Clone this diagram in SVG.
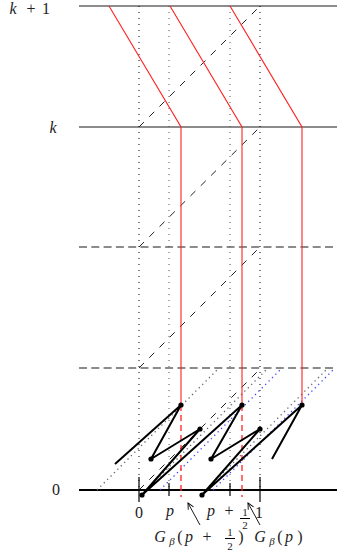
<svg xmlns="http://www.w3.org/2000/svg" width="337" height="559" viewBox="0 0 337 559">
<defs>
<style>
.lvl{stroke:#666;stroke-width:1.5;fill:none}
.lvld{stroke:#666;stroke-width:1.6;stroke-dasharray:8 4.3;fill:none}
.vdot{stroke:#000;stroke-width:1;stroke-dasharray:1 5;fill:none}
.vdotg{stroke:#555;stroke-width:1;stroke-dasharray:1 5;fill:none}
.diag{stroke:#222;stroke-width:1;stroke-dasharray:7 7.5;fill:none}
.gdot{stroke:#666;stroke-width:1.3;stroke-dasharray:1.3 3.5;fill:none}
.bdot{stroke:#44f;stroke-width:1.3;stroke-dasharray:1.3 3.5;fill:none}
.red{stroke:#f22;stroke-width:1.1;fill:none}
.redd{stroke:#f22;stroke-width:1.3;stroke-dasharray:6 4;fill:none}
.zz{stroke:#000;stroke-width:2;fill:none;stroke-linejoin:round}
.tick{stroke:#000;stroke-width:1.2}
.t{font-family:"Liberation Serif","DejaVu Serif",serif;font-size:16px;fill:#222;text-anchor:middle}
.i{font-style:italic}
.s{font-size:11px}
.fb{stroke:#000;stroke-width:1}
</style>
<marker id="ah" viewBox="0 0 8 8" refX="7" refY="4" markerWidth="8" markerHeight="8" orient="auto" markerUnits="userSpaceOnUse">
<path d="M1,1 L7,4 L1,7" fill="none" stroke="#000" stroke-width="0.9"/>
</marker>
</defs>
<g id="levels">
<line class="lvl" x1="79" y1="6" x2="337" y2="6"/>
<line class="lvl" x1="79" y1="127" x2="337" y2="127"/>
<line class="lvld" x1="79" y1="247" x2="337" y2="247"/>
<line class="lvld" x1="79" y1="368" x2="337" y2="368"/>
<line x1="79" y1="490" x2="337" y2="490" stroke="#000" stroke-width="2"/>
</g>
<g id="verticals">
<line class="vdot" x1="139" y1="6" x2="139" y2="490"/>
<line class="vdotg" x1="169" y1="6" x2="169" y2="490"/>
<line class="vdotg" x1="230" y1="6" x2="230" y2="490"/>
<line class="vdot" x1="260" y1="6" x2="260" y2="490"/>
</g>
<g id="diagonals">
<line class="diag" x1="139" y1="127" x2="260" y2="6"/>
<line class="diag" x1="139" y1="247" x2="260" y2="127"/>
<line class="diag" x1="139" y1="368" x2="260" y2="247"/>
<line class="diag" x1="139" y1="490" x2="260" y2="369"/>
<line class="gdot" x1="97" y1="490" x2="219" y2="368"/>
<line class="gdot" x1="146" y1="490" x2="268" y2="368"/>
<line class="bdot" x1="160" y1="490" x2="282" y2="368"/>
<line class="gdot" x1="206" y1="490" x2="328" y2="368"/>
<line class="bdot" x1="213" y1="490" x2="335" y2="368"/>
</g>
<g id="particles">
<polyline class="red" points="109,6 181,127 181,405"/>
<polyline class="red" points="170,6 242,127 242,405"/>
<polyline class="red" points="230,6 302,127 302,405"/>
<line class="redd" x1="181" y1="405" x2="181" y2="497"/>
<line class="redd" x1="242" y1="405" x2="242" y2="497"/>
</g>
<g id="ticks">
<line class="tick" x1="139" y1="477" x2="139" y2="502"/>
<line class="tick" x1="260" y1="477" x2="260" y2="502"/>
<line class="tick" x1="169" y1="483" x2="169" y2="496"/>
<line class="tick" x1="230" y1="483" x2="230" y2="496"/>
</g>
<g id="zigzag">
<polyline class="zz" points="115,464 181,405 151,459 200,429 142,495 242,405 211,459 260,429 202,495 302,405 272,459"/>
<g fill="#000">
<circle cx="181" cy="405" r="2.6"/>
<circle cx="242" cy="405" r="2.6"/>
<circle cx="302" cy="405" r="2.6"/>
<circle cx="200" cy="429" r="2.6"/>
<circle cx="260" cy="429" r="2.6"/>
<circle cx="151" cy="459" r="2.6"/>
<circle cx="211" cy="459" r="2.6"/>
<circle cx="142" cy="495" r="2.6"/>
<circle cx="202" cy="495" r="2.6"/>
</g>
</g>
<g id="labels">
<text class="t i" x="13" y="14">k</text>
<text class="t" x="31" y="14">+</text>
<text class="t" x="46" y="14">1</text>
<text class="t i" x="53" y="133">k</text>
<text class="t" x="56" y="495">0</text>
<text class="t" x="139" y="518">0</text>
<text class="t i" x="170" y="516">p</text>
<text class="t i" x="211" y="516">p</text>
<text class="t" x="229" y="516">+</text>
<text class="t s" x="245" y="516">1</text>
<line class="fb" x1="240" y1="518.5" x2="250" y2="518.5"/>
<text class="t s" x="245" y="529">2</text>
<text class="t" x="259" y="518">1</text>
<text class="t i" x="160" y="542">G</text>
<text class="t i s" x="172" y="545">β</text>
<text class="t" x="180" y="542">(</text>
<text class="t i" x="189" y="542">p</text>
<text class="t" x="207" y="542">+</text>
<text class="t s" x="230" y="536">1</text>
<line class="fb" x1="225" y1="538.5" x2="235" y2="538.5"/>
<text class="t s" x="230" y="550">2</text>
<text class="t" x="241" y="542">)</text>
<text class="t i" x="260" y="542">G</text>
<text class="t i s" x="272" y="545">β</text>
<text class="t" x="280" y="542">(</text>
<text class="t i" x="289" y="542">p</text>
<text class="t" x="300" y="542">)</text>
</g>
<g id="arrows">
<line x1="200" y1="525" x2="188" y2="503" stroke="#000" stroke-width="0.9" marker-end="url(#ah)"/>
<line x1="260" y1="525" x2="248" y2="503" stroke="#000" stroke-width="0.9" marker-end="url(#ah)"/>
</g>
</svg>
